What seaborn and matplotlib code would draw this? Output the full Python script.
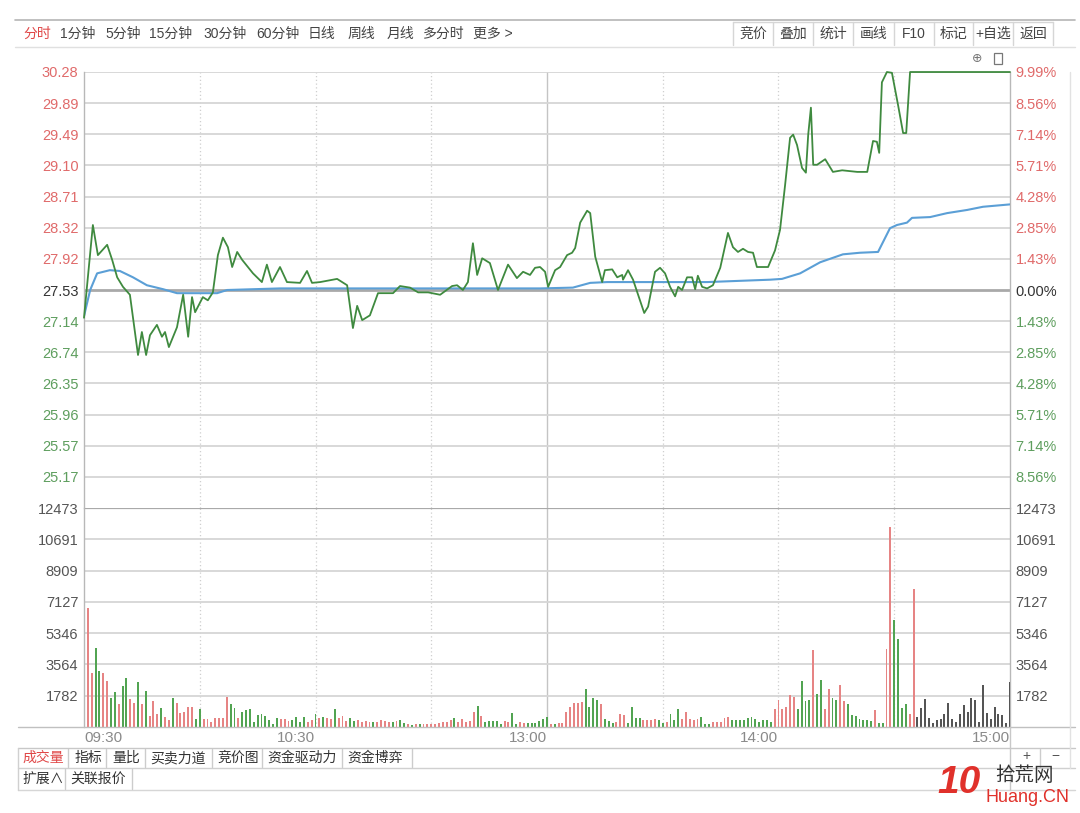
import numpy as np
import pandas as pd
import matplotlib
matplotlib.use("Agg")
import matplotlib.pyplot as plt
from matplotlib.lines import Line2D
from matplotlib.patches import Rectangle
import seaborn as sns

sns.set_style("white")
plt.rcParams["font.family"] = ["Liberation Sans", "Noto Sans CJK SC", "DejaVu Sans"]

# ---------------- data ----------------
PRE_CLOSE = 27.53

price_min = [0, 2.3, 3.6, 6.0, 7.3, 8.6, 10.1, 11.9, 14.0, 15.0, 16.1, 17.1, 18.9, 20.2, 21.0, 22.0,
             24.1, 25.7, 27.0, 28.0, 28.8, 30.8, 32.1, 33.4, 34.7, 36.0, 37.3, 38.4, 39.7, 41.0, 43.8,
             46.1, 47.4, 48.7, 50.8, 52.6, 56.0, 57.8, 59.1, 61.2, 65.6, 68.2, 69.7, 70.8, 72.1, 74.1,
             76.2, 80.1, 81.9, 84.5, 86.6, 89.2, 92.3, 95.4, 96.7, 98.2, 99.5, 100.8, 101.9, 103.2,
             105.2, 107.3, 109.9, 112.2, 113.8, 115.6, 116.9, 118.2, 119.5, 120.3, 122.1, 123.4, 125.2,
             126.5, 127.3, 128.6, 130.4, 131.2, 132.5, 134.3, 135.0, 136.9, 138.2, 139.5, 139.7, 141.0,
             142.3, 144.1, 145.2, 146.2, 148.0, 149.3, 150.6, 151.9, 153.2, 154.0, 155.0, 156.3, 157.6,
             158.4, 159.1, 160.2, 161.5, 163.0, 164.9, 166.9, 168.2, 169.5, 170.8, 172.1, 173.4, 174.4,
             177.3, 179.1, 180.4, 181.7, 183.0, 183.8, 184.8, 186.1, 187.1, 187.7, 188.4, 189.0, 190.0,
             192.1, 194.1, 196.5, 200.4, 203.0, 204.5, 205.5, 206.1, 206.8, 208.1, 209.4, 211.0, 212.3,
             213.1, 214.1, 240]
price_val = [27.18, 28.35, 27.97, 28.10, 27.91, 27.69, 27.57, 27.47, 26.71, 27.00, 26.71, 26.96, 27.09,
             26.94, 27.00, 26.81, 27.06, 27.47, 26.94, 27.44, 27.25, 27.44, 27.40, 27.50, 27.97, 28.19,
             28.07, 27.82, 28.01, 27.91, 27.74, 27.63, 27.85, 27.63, 27.82, 27.63, 27.62, 27.77, 27.62,
             27.63, 27.67, 27.59, 27.05, 27.33, 27.15, 27.21, 27.49, 27.49, 27.58, 27.56, 27.50, 27.50,
             27.47, 27.58, 27.59, 27.53, 27.63, 28.12, 27.72, 27.93, 27.87, 27.53, 27.85, 27.68, 27.76,
             27.72, 27.81, 27.82, 27.76, 27.57, 27.78, 27.82, 27.97, 28.00, 28.06, 28.38, 28.53, 28.50,
             27.95, 27.63, 27.78, 27.79, 27.69, 27.72, 27.66, 27.78, 27.66, 27.40, 27.24, 27.32, 27.76,
             27.81, 27.74, 27.57, 27.45, 27.57, 27.53, 27.69, 27.69, 27.54, 27.71, 27.57, 27.55, 27.59,
             27.81, 28.25, 28.07, 28.01, 28.05, 28.01, 28.00, 27.82, 27.82, 28.03, 28.29, 28.85, 29.45,
             29.49, 29.36, 29.07, 29.01, 29.49, 29.83, 29.11, 29.11, 29.18, 29.02, 29.04, 29.02, 29.02,
             29.41, 29.40, 29.26, 30.15, 30.28, 30.27, 29.86, 29.51, 29.51, 30.28, 30.28]

avg_min = [0, 1.6, 3.4, 6.7, 9.3, 12.7, 16.3, 20.5, 24.1, 34.5, 37.1, 50.8, 63.8, 118.2, 126.7, 131.2,
           135.6, 161.5, 177.8, 180.9, 185.6, 190.8, 196.7, 201.1, 205.8, 208.9, 210.7, 213.3, 214.6,
           219.3, 223.7, 228.9, 233.0, 240]
avg_val = [27.20, 27.53, 27.74, 27.78, 27.77, 27.69, 27.59, 27.54, 27.49, 27.49, 27.53, 27.55, 27.55,
           27.55, 27.56, 27.62, 27.63, 27.63, 27.66, 27.67, 27.74, 27.88, 27.98, 28.00, 28.01, 28.31,
           28.35, 28.38, 28.44, 28.45, 28.50, 28.54, 28.58, 28.61]

# one bar per minute (09:31 ... 15:00)
volume = [6780, 3090, 4500, 3200, 3090, 2620, 1650, 1990, 1310, 2350, 2810, 1600, 1380, 2580, 1310, 2070,
          630, 1480, 740, 1060, 590, 400, 1650, 1380, 780, 870, 1120, 1120, 440, 1010, 440, 440, 300, 490,
          490, 490, 1730, 1310, 1100, 490, 830, 970, 1010, 300, 680, 720, 630, 380, 150, 530, 440, 440,
          350, 380, 570, 300, 570, 300, 380, 720, 490, 570, 530, 440, 1050, 530, 630, 350, 490, 350,
          380, 300, 350, 300, 270, 300, 380, 350, 300, 270, 350, 420, 230, 150, 100, 150, 190, 150, 190,
          150, 190, 230, 300, 300, 380, 500, 270,
          440, 270, 350, 870, 1200, 630, 270, 350, 350, 330, 150, 350, 270, 790, 150, 270, 230, 230, 230,
          230, 350, 440, 570, 150, 190, 230, 230, 870, 1120, 1370, 1370, 1420, 2150, 1140, 1670, 1520,
          1290, 440, 350, 230, 270, 720, 680, 230, 1140, 530, 530, 380, 380, 420, 460, 420, 230, 270, 720,
          420, 1030, 470, 840, 470, 420, 470, 570, 190, 150, 270, 300,
          270, 500, 570, 380, 380, 380, 420, 500, 570, 470, 270, 380, 420, 270, 1050, 1520, 1050, 1120,
          1800, 1710, 1050, 2600, 1480, 1520, 4400, 1900, 2660, 1050, 2180, 1650, 1560, 2410, 1460, 1330,
          660, 610, 470, 380, 380, 340, 950, 230, 230, 4460, 11400, 6120, 4990, 1080, 1290, 720, 7840,
          570, 1080, 1580, 530, 230, 380, 470, 720, 1380, 470, 270, 760, 1240, 850, 1650, 1520, 270, 2410,
          800, 470, 1140, 760, 700, 200, 2580]
# r = up (red), g = down (green), k = unchanged (gray)
vol_dir = list(
    "rrggrrggrg" "grrgrgrrrg" "rrgrrrrrgg" "rrrrrrrggr" "gggggggggg" "rrrggggrrg" "rgrrgrrrgg"
    "rrrrgrrrrgrggrgrgrrrrrrrrgr"
    "rrrrgrgggg" "grrggrrggg" "gggrgrrrrr" "rrggggrggg" "rrrggggrrr" "rggrgggrrr" "rrgggrr"
    "rrrggggggggggg" "rrrrrr" "gggg" "r" "gg" "rr" "gg" "rr" "ggggggg" "r" "gg" "rr" "gggg" "rr"
    "kkkkkkkkkkkkkkkkkkkkkkkkk"
)
assert len(vol_dir) == len(volume), (len(vol_dir), len(volume))

pct_steps = [9.99, 8.56, 7.14, 5.71, 4.28, 2.85, 1.43, 0.00, -1.43, -2.85, -4.28, -5.71, -7.14, -8.56]
price_labels = ["30.28", "29.89", "29.49", "29.10", "28.71", "28.32", "27.92", "27.53", "27.14",
                "26.74", "26.35", "25.96", "25.57", "25.17"]
pct_labels = ["9.99%", "8.56%", "7.14%", "5.71%", "4.28%", "2.85%", "1.43%", "0.00%", "1.43%",
              "2.85%", "4.28%", "5.71%", "7.14%", "8.56%"]
vol_ticks = [12473, 10691, 8909, 7127, 5346, 3564, 1782]
time_pos = [0, 60, 120, 180, 240]
time_labels = ["09:30", "10:30", "13:00", "14:00", "15:00"]
grid_minutes = [30, 60, 90, 150, 180, 210]

left_tabs = ["分时", "1分钟", "5分钟", "15分钟", "30分钟", "60分钟", "日线", "周线", "月线", "多分时", "更多 >"]
right_tabs = ["竞价", "叠加", "统计", "画线", "F10", "标记", "+自选", "返回"]
bottom_tabs = ["成交量", "指标", "量比", "买卖力道", "竞价图", "资金驱动力", "资金博弈"]
bottom_tabs2 = ["扩展∧", "关联报价"]

# ---------------- colors ----------------
RED_TXT = "#e06a6a"
GRN_TXT = "#5e9e5e"
GRAY_TXT = "#555555"
PRICE_C = "#3f8a3f"
AVG_C = "#5b9fd6"
BAR_PAL = {"r": "#e68484", "g": "#52a452", "k": "#555555"}
GRID_C = "#d6d6d6"

W, H = 1080, 813
fig = plt.figure(figsize=(W / 100, H / 100), dpi=100)
fig.patch.set_facecolor("white")


def fx(x):
    return x / W


def fy(y):
    return 1 - y / H


X0, X1 = 84, 1010
axp = fig.add_axes([fx(X0), fy(508), (X1 - X0) / W, (508 - 72) / H])
axv = fig.add_axes([fx(X0), fy(727), (X1 - X0) / W, (727 - 508) / H])

lo = PRE_CLOSE * (1 - 0.0999)
hi = PRE_CLOSE * (1 + 0.0999)
tick_pos = [PRE_CLOSE * (1 + p / 100) for p in pct_steps]

for ax in (axp, axv):
    ax.set_facecolor("white")
    ax.set_xlim(0, 240)
    for s in ("top", "bottom"):
        ax.spines[s].set_visible(False)
    for s in ("left", "right"):
        ax.spines[s].set_color("#b8b8b8")
        ax.spines[s].set_linewidth(1.0)
    for m in grid_minutes:
        ax.axvline(m, color="#cfcfcf", lw=0.9, ls=(0, (1, 2)), zorder=0)
    ax.axvline(120, color="#c4c4c4", lw=1.0, zorder=0)

# ---- price panel ----
axp.set_ylim(lo, hi)
for t, p in zip(tick_pos, pct_steps):
    if p == 0:
        axp.axhline(t, color="#a9a9a9", lw=2.0, zorder=1)
    else:
        axp.axhline(t, color=GRID_C, lw=1.3, zorder=1)

pdf = pd.DataFrame({"minute": price_min, "price": price_val})
adf = pd.DataFrame({"minute": avg_min, "price": avg_val})
sns.lineplot(data=adf, x="minute", y="price", ax=axp, color=AVG_C, lw=1.5, sort=False,
             estimator=None, zorder=3)
sns.lineplot(data=pdf, x="minute", y="price", ax=axp, color=PRICE_C, lw=1.3, sort=False,
             estimator=None, zorder=4, clip_on=False)
axp.set_xlabel("")
axp.set_ylabel("")
axp.set_xticks([])
axp.set_yticks(tick_pos)
axp.set_yticklabels(price_labels)
axp.tick_params(axis="y", length=0, pad=4, labelsize=10.5)
for lab, p in zip(axp.get_yticklabels(), pct_steps):
    lab.set_color(RED_TXT if p > 0 else (GRN_TXT if p < 0 else "#333333"))

axp_r = axp.twinx()
axp_r.set_ylim(lo, hi)
axp_r.set_yticks(tick_pos)
axp_r.set_yticklabels(pct_labels)
axp_r.tick_params(axis="y", length=0, pad=4, labelsize=10.5)
for s in axp_r.spines.values():
    s.set_visible(False)
for lab, p in zip(axp_r.get_yticklabels(), pct_steps):
    lab.set_color(RED_TXT if p > 0 else (GRN_TXT if p < 0 else "#333333"))

# ---- volume panel ----
VMAX = 12473
axv.set_ylim(0, VMAX)
for v in vol_ticks:
    if v == VMAX:
        axv.axhline(v, color="#a9a9a9", lw=1.6, zorder=1)
    else:
        axv.axhline(v, color=GRID_C, lw=1.3, zorder=1)

vdf = pd.DataFrame({"minute": np.arange(1, len(volume) + 1), "vol": volume, "dir": vol_dir})
sns.barplot(data=vdf, x="minute", y="vol", hue="dir", palette=BAR_PAL, native_scale=True,
            dodge=False, width=0.5, legend=False, errorbar=None, saturation=1, ax=axv,
            linewidth=0, edgecolor="none", zorder=3)
axv.set_xlim(0, 240)
axv.set_ylim(0, VMAX)
axv.set_xlabel("")
axv.set_ylabel("")
axv.set_yticks(vol_ticks)
axv.set_yticklabels([str(v) for v in vol_ticks])
axv.tick_params(axis="y", length=0, pad=4, labelsize=10.5, labelcolor=GRAY_TXT)
axv.set_xticks(time_pos)
axv.set_xticklabels(time_labels)
axv.tick_params(axis="x", length=0, pad=3, labelsize=11, labelcolor="#8a8a8a")
for i, lab in enumerate(axv.get_xticklabels()):
    lab.set_ha("left" if i == 0 else "right")

axv_r = axv.twinx()
axv_r.set_ylim(0, VMAX)
axv_r.set_yticks(vol_ticks)
axv_r.set_yticklabels([str(v) for v in vol_ticks])
axv_r.tick_params(axis="y", length=0, pad=4, labelsize=10.5, labelcolor=GRAY_TXT)
for s in axv_r.spines.values():
    s.set_visible(False)

# ---------------- frame decorations ----------------
def hline(y, x0, x1, c="#c8c8c8", lw=1.0):
    fig.add_artist(Line2D([fx(x0), fx(x1)], [fy(y), fy(y)], color=c, lw=lw))


def vline(x, y0, y1, c="#c8c8c8", lw=1.0):
    fig.add_artist(Line2D([fx(x), fx(x)], [fy(y0), fy(y1)], color=c, lw=lw))


hline(20, 15, 1075, "#b5b5b5", 1.2)
hline(47, 15, 1075, "#e0e0e0", 1.0)
hline(727, 18, 1075, "#c0c0c0", 1.0)
hline(748, 18, 1075, "#c8c8c8", 1.0)
hline(768, 18, 1075, "#d0d0d0", 1.0)
hline(790, 18, 1075, "#d6d6d6", 1.0)
vline(1010, 727, 790, "#c8c8c8")
vline(1070, 72, 768, "#e2e2e2")
vline(18, 748, 790, "#d0d0d0")

# toolbar (left)
left_x = [23, 60, 105, 149, 203, 256, 308, 348, 387, 423, 473]
for i, (t, x) in enumerate(zip(left_tabs, left_x)):
    fig.text(fx(x), fy(34), t, fontsize=10, color="#e04848" if i == 0 else "#444444",
             va="center", ha="left")

# toolbar (right) with boxes
edges = [733, 773, 813, 853, 894, 934, 973, 1013, 1053]
for i, t in enumerate(right_tabs):
    xa, xb = edges[i], edges[i + 1]
    fig.text(fx((xa + xb) / 2), fy(34), t, fontsize=10, color="#444444", va="center", ha="center")
for e in edges:
    vline(e, 22, 45, "#d6d6d6")
hline(22, 733, 1053, "#d6d6d6")

# small icons top-right
fig.text(fx(977), fy(58), "⊕", fontsize=9, color="#777777", ha="center", va="center",
         family="DejaVu Sans")
fig.add_artist(Rectangle((fx(994), fy(64)), 8 / W, 11 / H, fill=False, ec="#777777", lw=0.9))

# bottom tabs
bt_x = [22, 75, 112, 150, 217, 267, 347]
bt_sep = [68, 106, 145, 212, 262, 342, 412]
for i, (t, x) in enumerate(zip(bottom_tabs, bt_x)):
    fig.text(fx(x), fy(758), t, fontsize=10, color="#e04848" if i == 0 else "#333333",
             va="center", ha="left")
for s in bt_sep:
    vline(s, 749, 767, "#cccccc")
bt2_x = [22, 70]
for t, x in zip(bottom_tabs2, bt2_x):
    fig.text(fx(x), fy(779), t, fontsize=10, color="#333333", va="center", ha="left")
vline(65, 769, 789, "#cccccc")
vline(132, 769, 789, "#cccccc")

# + / - buttons
fig.text(fx(1026), fy(756), "+", fontsize=10, color="#555555", ha="center", va="center")
fig.text(fx(1055), fy(756), "−", fontsize=10, color="#555555", ha="center", va="center")
vline(1040, 749, 767, "#cccccc")

# watermark
fig.text(fx(937), fy(783), "10", fontsize=28, color="#e0312b", fontweight="bold",
         style="italic", ha="left", va="center")
fig.text(fx(995), fy(776), "拾荒网", fontsize=14, color="#333333", ha="left", va="center")
fig.text(fx(985), fy(797), "Huang.CN", fontsize=13, color="#e0312b", ha="left", va="center")

fig.savefig("out.png", dpi=100, facecolor="white")
